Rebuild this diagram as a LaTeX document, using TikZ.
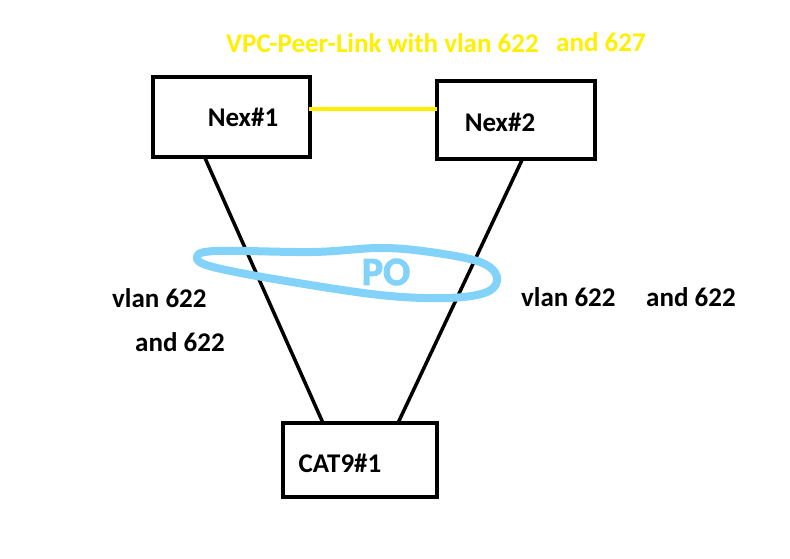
\documentclass[tikz,border=0pt]{standalone}
\usepackage{fontspec}
\setmainfont{Carlito}
\newfontfamily\pofont[FakeBold=2.5]{Carlito Bold}
\begin{document}
\begin{tikzpicture}[x=1pt,y=1pt,
  box/.style={draw=black,line width=4pt,minimum width=#1,inner sep=0pt},
  lbl/.style={font=\fontsize{27}{31}\selectfont\bfseries,inner sep=0pt},
  link/.style={line width=3.5pt,black},
  ylbl/.style={font=\fontsize{27}{31}\selectfont\bfseries,text=vpcyellow,inner sep=0pt}]
\definecolor{vpcyellow}{RGB}{255,240,0}
\definecolor{poblue}{RGB}{130,210,250}
\useasboundingbox (0,0) rectangle (790,558);
\fill[white] (0,0) rectangle (790,558);
% boxes
\node[box=157pt,minimum height=80pt] (nex1) at (231.5,441) {};
\node[box=158pt,minimum height=78pt] (nex2) at (516,438) {};
\node[box=154pt,minimum height=74pt] (cat) at (360,98) {};
\node[lbl] (t1) at (243,441) {Nex\#1};
\node[lbl] (t2) at (500,436) {Nex\#2};
\node[lbl] (t3) at (340,95) {CAT9\#1};
% anchor coordinates for links
\coordinate (n1b) at (205,400);
\coordinate (n2b) at (522,398);
\coordinate (cl) at (323,135);
\coordinate (cr) at (398,135);
\coordinate (n1r) at (309,449);
\coordinate (n2l) at (437,449);
\draw[link] (n1b) -- (cl);
\draw[link] (n2b) -- (cr);
\draw[vpcyellow,line width=3.5pt] (n1r) -- (n2l);
% PO stroke
\draw[poblue,line width=8pt,line join=round] plot[smooth cycle,tension=0.6] coordinates
 {(197,300) (215,307) (313,306) (380,310) (430,306) (480,296) (497,281) (487,266) (447,260) (380,263) (280,278) (213,291)};
\node[font=\fontsize{40}{44}\pofont,text=poblue,inner sep=0pt] (po) at (386,286) {PO};
% labels
\node[ylbl,anchor=west] (title) at (226,515) {VPC-Peer-Link with vlan 622};
\node[ylbl,anchor=west] (title2) at (556,516) {and 627};
\node[lbl,anchor=west] (l1) at (112,260) {vlan 622};
\node[lbl,anchor=west] (l2) at (135,216) {and 622};
\node[lbl,anchor=west] (r1) at (521,261) {vlan 622};
\node[lbl,anchor=west] (r2) at (646,261) {and 622};
\end{tikzpicture}
\end{document}
